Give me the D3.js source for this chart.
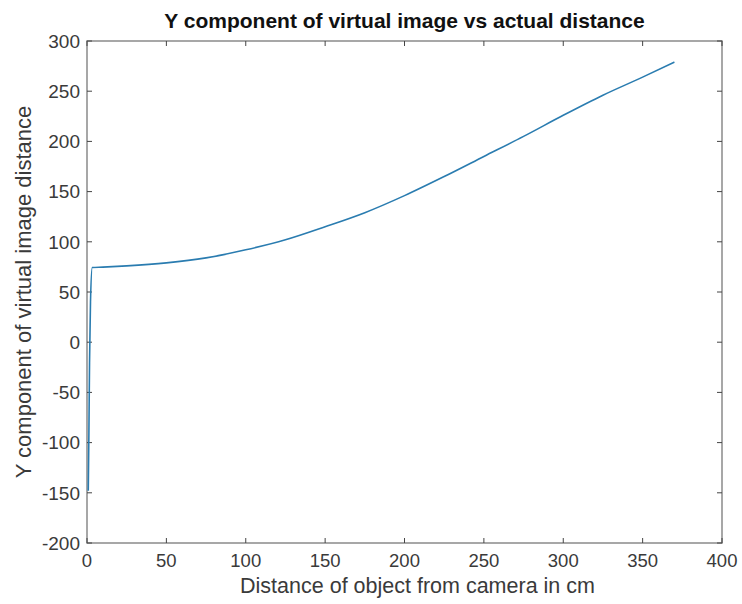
<!DOCTYPE html>
<html>
<head>
<meta charset="utf-8">
<script src="https://cdn.jsdelivr.net/npm/d3@7"></script>
<style>
  body { margin: 0; background: #fff; }
  text { font-family: "Liberation Sans", Arial, sans-serif; }
</style>
</head>
<body>
<div id="chart"></div>
<script>
// distance of object from camera (cm)
const distances = [0.8, 1.2, 1.6, 2.2, 3.3, 10, 25, 50, 75, 100, 125, 150, 175, 200, 225, 250, 275, 300, 325, 350, 370];
// Y component of virtual image distance
const yComponent = [-148, -90, -20, 40, 74.4, 74.8, 76, 79, 84, 92, 102, 115, 129, 146, 165, 185, 205, 226, 246, 264, 279];
const xTicks = [0, 50, 100, 150, 200, 250, 300, 350, 400];
const yTicks = [-200, -150, -100, -50, 0, 50, 100, 150, 200, 250, 300];

const width = 742, height = 604;
const margin = { top: 41, right: 20, bottom: 61, left: 87 };

const svg = d3.select('#chart')
  .append('svg')
  .attr('width', width)
  .attr('height', height);

const x = d3.scaleLinear().domain([0, 400]).range([margin.left, width - margin.right]);
const y = d3.scaleLinear().domain([-200, 300]).range([height - margin.bottom, margin.top]);

const axisColor = '#8a8a8a';
const textColor = '#3a3a3a';

// box
svg.append('rect')
  .attr('x', x(0)).attr('y', y(300))
  .attr('width', x(400) - x(0)).attr('height', y(-200) - y(300))
  .attr('fill', 'none')
  .attr('stroke', axisColor)
  .attr('stroke-width', 1.5);

// ticks, pointing inward on all four sides
const tickLen = 5;
xTicks.forEach((t) => {
  svg.append('line')
    .attr('x1', x(t)).attr('x2', x(t))
    .attr('y1', y(-200)).attr('y2', y(-200) - tickLen)
    .attr('stroke', '#444');
  svg.append('line')
    .attr('x1', x(t)).attr('x2', x(t))
    .attr('y1', y(300)).attr('y2', y(300) + tickLen)
    .attr('stroke', '#444');
  svg.append('text')
    .attr('x', x(t)).attr('y', y(-200) + 24)
    .attr('text-anchor', 'middle')
    .attr('font-size', 18.5)
    .attr('fill', textColor)
    .text(t);
});
yTicks.forEach((t) => {
  svg.append('line')
    .attr('x1', x(0)).attr('x2', x(0) + tickLen)
    .attr('y1', y(t)).attr('y2', y(t))
    .attr('stroke', '#444');
  svg.append('line')
    .attr('x1', x(400)).attr('x2', x(400) - tickLen)
    .attr('y1', y(t)).attr('y2', y(t))
    .attr('stroke', '#444');
  svg.append('text')
    .attr('x', x(0) - 7).attr('y', y(t)).attr('dy', '0.36em')
    .attr('text-anchor', 'end')
    .attr('font-size', 19)
    .attr('fill', textColor)
    .text(t);
});

// data line
const line = d3.line()
  .x((d) => x(d[0]))
  .y((d) => y(d[1]))
  .curve(d3.curveMonotoneX);

svg.append('path')
  .datum(d3.zip(distances, yComponent))
  .attr('d', line)
  .attr('fill', 'none')
  .attr('stroke', '#2a7cb0')
  .attr('stroke-width', 1.6);

// title
svg.append('text')
  .attr('x', (x(0) + x(400)) / 2).attr('y', 28)
  .attr('text-anchor', 'middle')
  .attr('font-size', 21)
  .attr('font-weight', 'bold')
  .attr('fill', '#111')
  .text('Y component of virtual image vs actual distance');

// axis labels
svg.append('text')
  .attr('x', (x(0) + x(400)) / 2 + 13).attr('y', 593)
  .attr('text-anchor', 'middle')
  .attr('font-size', 21.5)
  .attr('fill', textColor)
  .text('Distance of object from camera in cm');

svg.append('text')
  .attr('transform', `translate(31,${(y(-200) + y(300)) / 2}) rotate(-90)`)
  .attr('text-anchor', 'middle')
  .attr('font-size', 22)
  .attr('fill', textColor)
  .text('Y component of virtual image distance');
</script>
</body>
</html>
